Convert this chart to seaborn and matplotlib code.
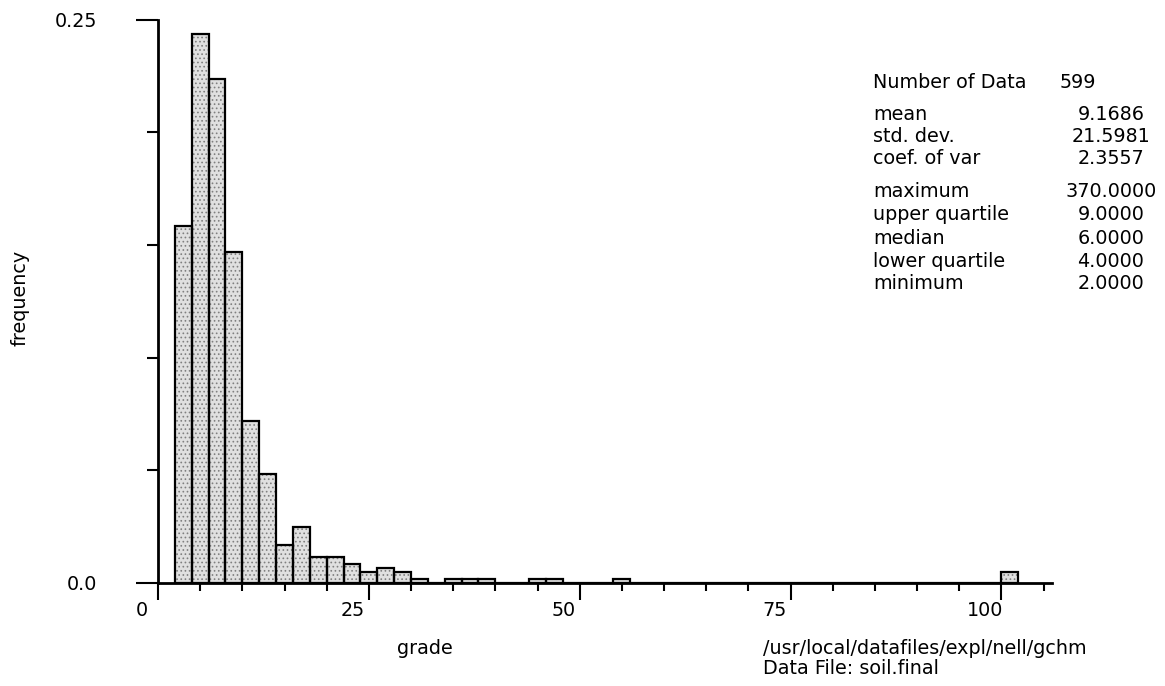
import numpy as np
import pandas as pd
import matplotlib
matplotlib.use('Agg')
import matplotlib.pyplot as plt
import matplotlib.transforms as mtransforms
from matplotlib.ticker import FixedLocator, MultipleLocator
import seaborn as sns

# ── data (bin width 2, counts out of 599) ──
bin_left = [2, 4, 6, 8, 10, 12, 14, 16, 18, 20, 22, 24, 26, 28, 30,
            34, 36, 38, 44, 46, 54, 100]
bin_count = [95, 146, 134, 88, 43, 29, 10, 15, 7, 7, 5, 3, 4, 3, 1,
             1, 1, 1, 1, 1, 1, 3]
bin_width = 2
x_major = [0, 25, 50, 75, 100]
y_major = [0.0, 0.25]
y_major_labels = ['0.0', '0.25']

stat_names = ['mean', 'std. dev.', 'coef. of var',
              'maximum', 'upper quartile', 'median', 'lower quartile', 'minimum']
stat_values = ['9.1686', '21.5981', '2.3557',
               '370.0000', '9.0000', '6.0000', '4.0000', '2.0000']
n_data = 599

df = pd.DataFrame({'grade': np.array(bin_left, dtype=float) + bin_width / 2,
                   'count': np.array(bin_count, dtype=float)})
edges = [float(e) for e in range(2, 104, bin_width)]

sns.set_style('ticks')
plt.rcParams['font.family'] = ['DejaVu Sans']
plt.rcParams['text.color'] = 'black'
plt.rcParams['hatch.linewidth'] = 0.7
fs = 13.8

W, H = 1165, 686
fig = plt.figure(figsize=(W / 100, H / 100), dpi=100)
ax = fig.add_axes([158 / W, 103 / H, 894 / W, 563.5 / H])

# stipple fill first, then black outlines on top
sns.histplot(data=df, x='grade', weights='count', bins=edges, stat='probability',
             color='#e0e0e0', edgecolor='#808080', linewidth=0, alpha=1, ax=ax)
for p in ax.patches:
    p.set_hatch('....')
sns.histplot(data=df, x='grade', weights='count', bins=edges, stat='probability',
             fill=False, color='black', linewidth=1.6, ax=ax)

ax.set_xlim(0, 106)
ax.set_ylim(0, 0.25)
ax.set_xlabel('')
ax.set_ylabel('')

for s in ['top', 'right']:
    ax.spines[s].set_visible(False)
for s in ['left', 'bottom']:
    ax.spines[s].set_linewidth(2)
    ax.spines[s].set_color('black')

ax.xaxis.set_major_locator(FixedLocator(x_major))
ax.xaxis.set_minor_locator(MultipleLocator(5))
ax.set_xticklabels([str(v) for v in x_major])
ax.yaxis.set_major_locator(FixedLocator(y_major))
ax.yaxis.set_minor_locator(MultipleLocator(0.05))
ax.set_yticklabels(y_major_labels)

ax.tick_params(axis='x', which='both', bottom=True, direction='out', width=1.5,
               color='black')
ax.tick_params(axis='x', which='major', length=12, pad=1, labelsize=fs,
               labelcolor='black')
ax.tick_params(axis='x', which='minor', length=6)
ax.tick_params(axis='y', which='both', left=True, direction='out', width=1.5,
               color='black')
ax.tick_params(axis='y', which='major', length=16, pad=28, labelsize=fs,
               labelcolor='black')
ax.tick_params(axis='y', which='minor', length=8)

# tick labels in the original sit a little left of their ticks
shift = mtransforms.ScaledTranslation(-16 / 100, 0, fig.dpi_scale_trans)
for lab in ax.get_xticklabels():
    lab.set_transform(lab.get_transform() + shift)

fig.text(20 / W, 1 - 298 / H, 'frequency', rotation=90, ha='center', va='center', fontsize=fs)
fig.text(425 / W, 1 - 648 / H, 'grade', ha='center', va='center', fontsize=fs)
fig.text(763 / W, 1 - 648 / H, '/usr/local/datafiles/expl/nell/gchm',
         ha='left', va='center', fontsize=fs)
fig.text(763 / W, 1 - 668 / H, 'Data File: soil.final',
         ha='left', va='center', fontsize=fs)

# summary statistics block
fig.text(873 / W, 1 - 88 / H, 'Number of Data', ha='left', va='baseline', fontsize=fs)
fig.text(1060 / W, 1 - 88 / H, str(n_data), ha='left', va='baseline', fontsize=fs)
stat_base = [120, 142, 164, 197, 220, 244, 267, 289]
for name, val, yb in zip(stat_names, stat_values, stat_base):
    fig.text(873 / W, 1 - yb / H, name, ha='left', va='baseline', fontsize=fs)
    fig.text(1111 / W, 1 - yb / H, val, ha='center', va='baseline', fontsize=fs)

fig.savefig('out.png', dpi=100)
